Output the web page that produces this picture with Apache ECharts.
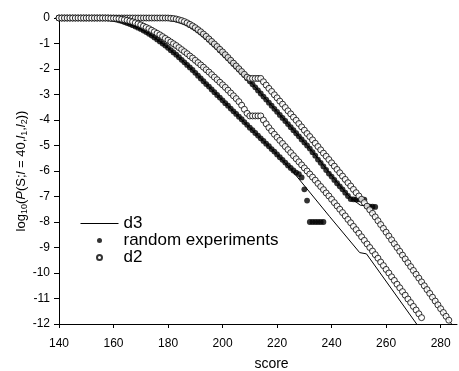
<!DOCTYPE html>
<html>
<head>
<meta charset="utf-8">
<script src="https://cdn.jsdelivr.net/npm/echarts@6/dist/echarts.min.js"></script>
<style>
html,body{margin:0;padding:0;background:#fff;}
#chart{width:459px;height:371px;}
</style>
</head>
<body>
<div id="chart"></div>
<script>
// all dot series start at score 140, one value per integer score
const scoreStart = 140;
const xTicks = [140, 160, 180, 200, 220, 240, 260, 280];

// upper group, d2 (open circles) 140..283
const upperD2 = [
0,0,0,0,0,0,0,0,0,0, 0,0,0,0,0,0,0,0,0,0, 0,0,0,0,0,0,0,0,0,0, 0,0,0,0,0,0,0,0,0,0, 0,
-0.01,-0.02,-0.04,-0.07,-0.10,-0.14,-0.19,-0.25,-0.31,-0.38,
-0.46,-0.54,-0.63,-0.72,-0.82,-0.92,-1.02,-1.12,-1.23,-1.33,
-1.44,-1.55,-1.66,-1.77,-1.88,-1.99,-2.10,-2.21,-2.32,-2.37,
-2.37,-2.37,-2.37,-2.37,-2.50,-2.63,-2.76,-2.88,-3.01,-3.13,
-3.26,-3.38,-3.51,-3.64,-3.76,-3.89,-4.01,-4.14,-4.27,-4.40,
-4.53,-4.65,-4.78,-4.91,-5.04,-5.17,-5.30,-5.42,-5.55,-5.68,
-5.81,-5.94,-6.07,-6.20,-6.33,-6.46,-6.59,-6.72,-6.85,-6.98,
-7.11,-7.24,-7.38,-7.52,-7.66,-7.80,-7.95,-8.10,-8.25,-8.40,
-8.55,-8.70,-8.85,-9.00,-9.15,-9.30,-9.45,-9.60,-9.75,-9.90,
-10.05,-10.20,-10.35,-10.50,-10.65,-10.80,-10.95,-11.10,-11.25,-11.40,
-11.55,-11.70,-11.85
];

// upper group, random experiments (filled dots) 140..256
const upperRandom = [
0,0,0,0,0,0,0,0,0,0, 0,0,0,0,0,0,0,0,0,0, 0,0,0,0,0,0,0,0,0,0, 0,0,0,0,0,0,0,0,0,0, 0,
-0.02,-0.04,-0.06,-0.09,-0.13,-0.17,-0.22,-0.28,-0.34,-0.41,
-0.49,-0.57,-0.66,-0.75,-0.85,-0.95,-1.05,-1.15,-1.26,-1.36,
-1.47,-1.58,-1.69,-1.80,-1.91,-2.02,-2.13,-2.24,-2.36,-2.48,
-2.60,-2.72,-2.84,-2.96,-3.08,-3.20,-3.32,-3.44,-3.56,-3.68,
-3.80,-3.92,-4.04,-4.16,-4.28,-4.40,-4.52,-4.64,-4.76,-4.88,
-5.00,-5.12,-5.26,-5.40,-5.55,-5.68,-5.82,-5.96,-6.10,-6.22,
-6.35,-6.48,-6.60,-6.72,-6.85,-6.98,-7.10,-7.11,-7.12,-7.11,
-7.12,-7.12,-7.38,-7.40,-7.40,-7.41
];

// lower group, random experiments (filled dots) 140..237
const lowerRandom = [
0,0,0,0,0,0,0,0,0,0, 0,0,0,0,0,0,0,0,
-0.01,-0.02,-0.04,-0.06,-0.09,-0.12,-0.16,-0.20,-0.24,-0.28,
-0.33,-0.38,-0.43,-0.49,-0.55,-0.62,-0.69,-0.76,-0.84,-0.92,
-1.00,-1.08,-1.17,-1.26,-1.35,-1.44,-1.54,-1.64,-1.74,-1.84,
-1.94,-2.04,-2.15,-2.26,-2.37,-2.48,-2.59,-2.69,-2.80,-2.91,
-3.02,-3.12,-3.23,-3.34,-3.44,-3.55,-3.66,-3.76,-3.87,-3.97,
-4.08,-4.19,-4.30,-4.40,-4.51,-4.61,-4.72,-4.82,-4.93,-5.03,
-5.14,-5.24,-5.35,-5.46,-5.56,-5.67,-5.78,-5.88,-5.98,-6.06,
-6.12,-6.25,-6.72,-7.16,-8.00,-8.00,-8.00,-8.00,-8.00,-8.00
];

// lower group, d2 (open circles) 140..273
const lowerD2 = [
0,0,0,0,0,0,0,0,0,0, 0,0,0,0,0,0,0,0,
0.00,-0.01,-0.01,-0.02,-0.03,-0.05,-0.07,-0.09,-0.12,-0.15,
-0.19,-0.23,-0.27,-0.32,-0.37,-0.42,-0.48,-0.54,-0.60,-0.66,
-0.73,-0.80,-0.87,-0.94,-1.01,-1.08,-1.16,-1.24,-1.32,-1.40,
-1.49,-1.57,-1.66,-1.75,-1.84,-1.93,-2.03,-2.12,-2.22,-2.32,
-2.42,-2.52,-2.62,-2.72,-2.83,-2.94,-3.05,-3.16,-3.28,-3.42,
-3.58,-3.74,-3.84,-3.84,-3.84,-3.84,-3.84,-4.00,-4.15,-4.30,
-4.43,-4.56,-4.68,-4.80,-4.92,-5.04,-5.16,-5.28,-5.40,-5.52,
-5.64,-5.76,-5.88,-6.00,-6.12,-6.24,-6.36,-6.49,-6.61,-6.73,
-6.86,-6.98,-7.11,-7.24,-7.37,-7.50,-7.63,-7.76,-7.90,-8.03,
-8.17,-8.30,-8.44,-8.58,-8.72,-8.86,-9.00,-9.14,-9.28,-9.42,
-9.57,-9.71,-9.86,-10.00,-10.15,-10.29,-10.44,-10.58,-10.73,-10.87,
-11.02,-11.16,-11.31,-11.45,-11.60,-11.75
];

// d3 lines (vertices)
const upperD3Score = [140,180,185,190,195,200,205,210,215,220,225,230,235,240,245,247,250.5,253.3,256,284];
const upperD3Value = [0,0,-0.12,-0.40,-0.84,-1.35,-1.90,-2.47,-3.07,-3.67,-4.27,-4.87,-5.50,-6.18,-6.82,-7.05,-7.34,-7.38,-7.78,-12];
const lowerD3Score = [140,158,160,165,170,175,180,185,190,195,200,205,210,215,220,225,239.3,250.3,252.8,271.2];
const lowerD3Value = [0,0,-0.04,-0.20,-0.43,-0.76,-1.17,-1.64,-2.15,-2.69,-3.23,-3.76,-4.30,-4.82,-5.35,-5.92,-7.79,-9.20,-9.25,-12];

function seq(values) { return values.map((v, i) => [scoreStart + i, v]); }
function pairs(xs, ys) { return xs.map((x, i) => [x, ys[i]]); }

const FONT = 'Liberation Sans, Arial, Helvetica, sans-serif';
const chart = echarts.init(document.getElementById('chart'), null, {renderer: 'canvas'});

const lineStyle = {color: '#000', width: 1};
const dotStyle = {color: '#000'};
const circStyle = {color: '#fff', borderColor: '#000', borderWidth: 1};

chart.setOption({
  animation: false,
  backgroundColor: '#fff',
  grid: {left: 59, right: 2, top: 18, bottom: 47, containLabel: false, outerBoundsMode: 'none'},
  legend: {
    left: 80, top: 215, orient: 'vertical', padding: 0,
    itemWidth: 38, itemHeight: 5, itemGap: 0, itemTextGap: 10,
    textStyle: {fontFamily: FONT, fontSize: 17, color: '#000', lineHeight: 16.7},
    data: [
      {name: 'd3', itemStyle: {color: 'rgba(0,0,0,0)', borderWidth: 0, opacity: 0}, lineStyle: {width: 1, color: '#000'}},
      {name: 'random experiments'},
      {name: 'd2'}
    ],
    selectedMode: false
  },
  xAxis: {
    type: 'value', min: 140, max: 286,
    name: 'score', nameLocation: 'middle', nameGap: 33, nameMoveOverlap: false,
    nameTextStyle: {fontFamily: FONT, fontSize: 14, color: '#000', padding: [0, 0, 0, 27]},
    axisLine: {onZero: false, lineStyle: {color: '#000', width: 1}},
    axisTick: {show: true, length: 4, customValues: xTicks, lineStyle: {color: '#000'}},
    axisLabel: {customValues: xTicks, fontFamily: FONT, fontSize: 12, color: '#000', margin: 14},
    splitLine: {show: false}
  },
  yAxis: {
    type: 'value', min: -12, max: 0, interval: 1,
    name: 'log{sub|10}({i|P}(S;{i|l} = 40,{i|l}{sub|1},{i|l}{sub|2}))',
    nameLocation: 'middle', nameRotate: 90, nameGap: 30, nameMoveOverlap: false,
    nameTextStyle: {
      fontFamily: FONT, fontSize: 13, color: '#000',
      rich: {
        sub: {fontFamily: FONT, fontSize: 9, color: '#000', padding: [7, 0, 0, 0]},
        i: {fontFamily: FONT, fontSize: 13, fontStyle: 'italic', color: '#000'}
      }
    },
    axisLine: {show: true, onZero: false, lineStyle: {color: '#000', width: 1}},
    axisTick: {show: true, length: 5, lineStyle: {color: '#000'}},
    axisLabel: {fontFamily: FONT, fontSize: 12, color: '#000', margin: 9},
    splitLine: {show: false}
  },
  series: [
    {name: 'd3', type: 'line', symbol: 'none', lineStyle: lineStyle, itemStyle: {color: '#000'}, z: 1,
     data: pairs(upperD3Score, upperD3Value)},
    {name: 'd3', type: 'line', symbol: 'none', lineStyle: lineStyle, itemStyle: {color: '#000'}, z: 1,
     data: pairs(lowerD3Score, lowerD3Value)},
    {name: 'random experiments', type: 'scatter', symbol: 'circle', symbolSize: 5.8, itemStyle: dotStyle, z: 2,
     data: seq(upperRandom)},
    {name: 'random experiments', type: 'scatter', symbol: 'circle', symbolSize: 5.8, itemStyle: dotStyle, z: 2,
     data: seq(lowerRandom)},
    {name: 'd2', type: 'scatter', symbol: 'circle', symbolSize: 6, itemStyle: circStyle, z: 3,
     data: seq(upperD2)},
    {name: 'd2', type: 'scatter', symbol: 'circle', symbolSize: 6, itemStyle: circStyle, z: 3,
     data: seq(lowerD2)}
  ]
});
</script>
</body>
</html>
